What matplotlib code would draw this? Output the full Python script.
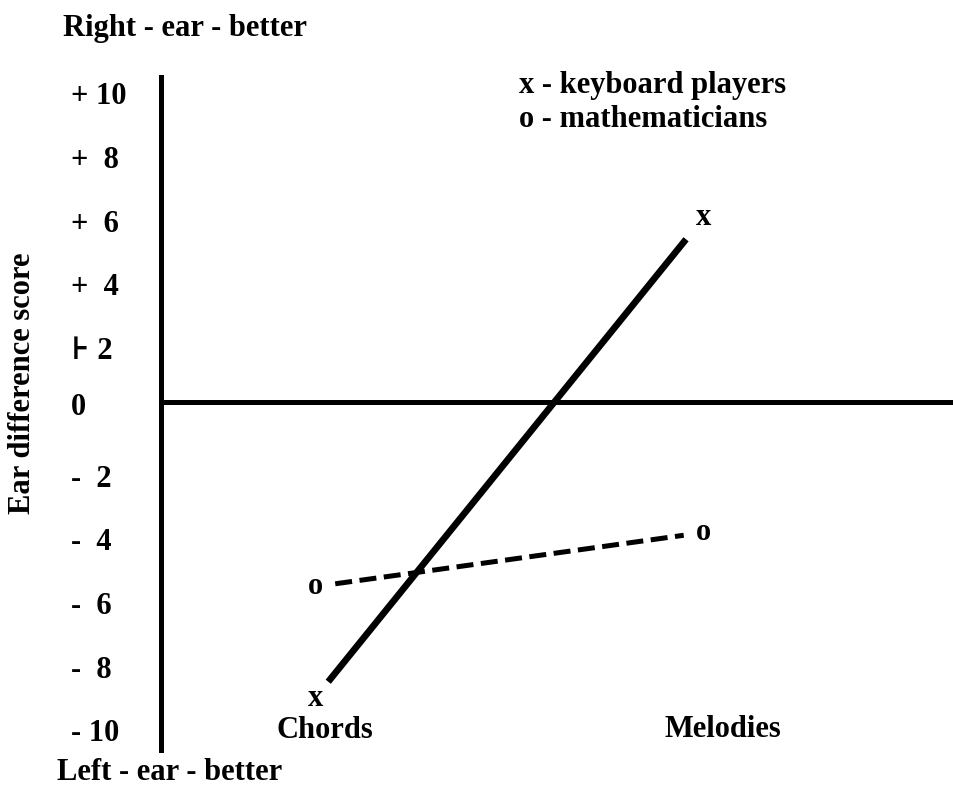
import numpy as np
import matplotlib.pyplot as plt
from matplotlib.transforms import ScaledTranslation

plt.rcParams['font.family'] = ['Liberation Serif', 'DejaVu Serif']
plt.rcParams['font.weight'] = 'bold'

# data
conditions = ["Chords", "Melodies"]
keyboard = [-9.3, 5.8]
mathematicians = [-5.8, -4.1]
ytick_vals = [10, 8, 6, 4, 2, 0, -2, -4, -6, -8, -10]
ytick_text = ["+ 10", "+  8", "+  6", "+  4", "\u22a6 2", "0", "-  2", "-  4", "-  6", "-  8", "- 10"]

FS = 22


def shrink(x, y, frac):
    # pull the segment ends in so the line stops short of the markers
    x = np.asarray(x, float)
    y = np.asarray(y, float)
    dx, dy = x[1] - x[0], y[1] - y[0]
    return ([x[0] + dx * frac[0], x[1] - dx * frac[1]],
            [y[0] + dy * frac[0], y[1] - dy * frac[1]])


fig = plt.figure(figsize=(9.54, 7.94), dpi=100)
ax = fig.add_axes([161 / 954, 44 / 794, 1 - 161 / 954, 673 / 794])

xpos = np.array([1, 2])
ax.set_xlim(0.604, 2.643)
ax.set_ylim(-10.93, 10.2)

for s in ["top", "right", "bottom"]:
    ax.spines[s].set_visible(False)
ax.spines["left"].set_linewidth(3.6)
ax.axhline(0, color="black", lw=3.6, zorder=1)

ax.set_xticks([])
ax.set_yticks(ytick_vals)
ax.set_yticklabels(ytick_text, fontsize=FS)
ax.tick_params(axis="y", length=0, pad=65)
# the printed labels sit a little below their gridline, except the zero
for lbl in ax.get_yticklabels():
    dy = -0.02 if lbl.get_text() == "0" else -0.10
    lbl.set_horizontalalignment("left")
    lbl.set_transform(lbl.get_transform() + ScaledTranslation(0, dy, fig.dpi_scale_trans))

# keyboard players
kx, ky = shrink(xpos, keyboard, (0.034, 0.046))
ax.plot(kx, ky, color="black", lw=4.8, solid_capstyle="butt")
for xi, yi in zip(xpos, keyboard):
    ax.text(xi, yi, "x", ha="center", va="center", fontsize=FS)

# mathematicians
mx, my = shrink(xpos, mathematicians, (0.052, 0.052))
ax.plot(mx, my, color="black", lw=3.6, dashes=(3.4, 1.5))
for xi, yi in zip(xpos, mathematicians):
    ax.text(xi, yi, "o", ha="center", va="center", fontsize=FS)

# category labels
ax.text(xpos[0] + 0.026, -10.55, conditions[0], ha="center", va="baseline", fontsize=FS)
ax.text(xpos[1] + 0.049, -10.52, conditions[1], ha="center", va="baseline", fontsize=FS)

# legend as plain text
fig.text(519 / 954, 1 - 93 / 794, "x - keyboard players", fontsize=FS, va="baseline")
fig.text(519 / 954, 1 - 127 / 794, "o - mathematicians", fontsize=FS, va="baseline")

fig.text(63 / 954, 1 - 36 / 794, "Right - ear - better", fontsize=FS, va="baseline")
fig.text(57 / 954, 1 - 780 / 794, "Left - ear - better", fontsize=FS, va="baseline")
fig.text(23 / 954, 1 - 383 / 794, "Ear difference score", fontsize=FS,
         rotation=90, ha="center", va="center")

fig.savefig("out.png", dpi=100)
